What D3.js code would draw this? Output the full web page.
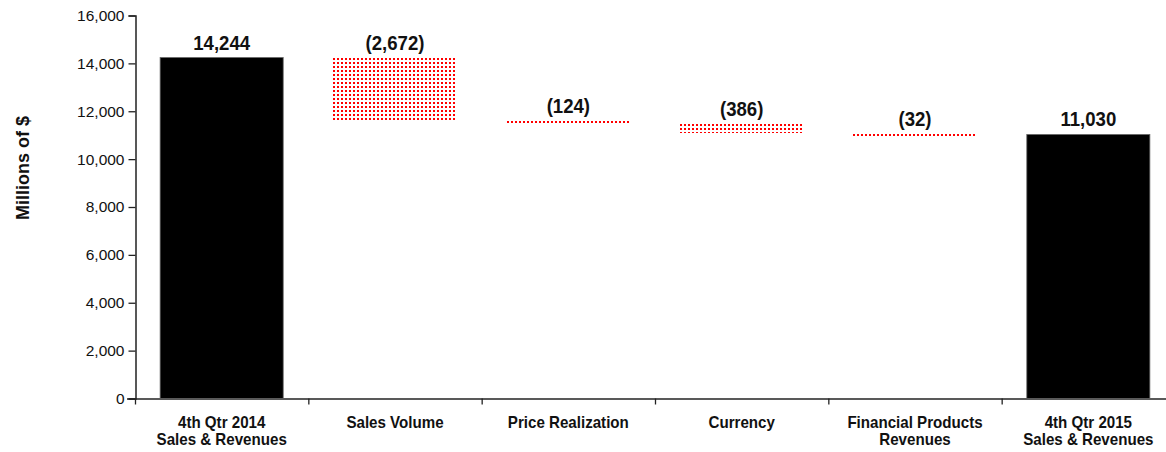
<!DOCTYPE html>
<html lang="en">
<head>
  <meta charset="UTF-8">
  <title>Sales and Revenues waterfall</title>
  <script src="https://d3js.org/d3.v7.min.js"></script>
  <style>
    body { margin: 0; background: #fff; }
    svg { font-family: "Liberation Sans Narrow", "Arial Narrow", "Liberation Sans", sans-serif; }
  </style>
</head>
<body>
  <svg id="chart"></svg>

  <script>
    // categories, with line breaks for the axis labels
    const categories = [
      ["4th Qtr 2014", "Sales & Revenues"],
      ["Sales Volume"],
      ["Price Realization"],
      ["Currency"],
      ["Financial Products", "Revenues"],
      ["4th Qtr 2015", "Sales & Revenues"]
    ];
    // totals are absolute, the others are changes
    const values = [14244, -2672, -124, -386, -32, 11030];
    const isTotal = [true, false, false, false, false, true];
    const labels = ["14,244", "(2,672)", "(124)", "(386)", "(32)", "11,030"];
    const yTicks = [0, 2000, 4000, 6000, 8000, 10000, 12000, 14000, 16000];

    const width = 1166, height = 452;
    const svg = d3.select("#chart").attr("width", width).attr("height", height);

    const x = d3.scaleBand()
      .domain(d3.range(categories.length))
      .range([135, 1175])
      .paddingInner(0.29)
      .paddingOuter(0.145);

    const y = d3.scaleLinear().domain([0, 16000]).range([398.5, 15.5]);

    // compute waterfall start/end
    let running = 0;
    const bars = values.map((v, i) => {
      let lo, hi;
      if (isTotal[i]) { lo = 0; hi = v; running = v; }
      else { const next = running + v; lo = Math.min(running, next); hi = Math.max(running, next); running = next; }
      return { i, lo, hi, total: isTotal[i], label: labels[i] };
    });

    // one dot pattern per change bar, snapped to whole pixels
    const defs = svg.append("defs");
    const pats = defs.selectAll("pattern")
      .data(bars.filter(d => !d.total))
      .join("pattern")
      .attr("id", d => "dots" + d.i)
      .attr("patternUnits", "userSpaceOnUse")
      .attr("x", d => Math.round(x(d.i)))
      .attr("y", d => Math.round(y(d.hi)))
      .attr("width", 4).attr("height", 4);
    pats.append("rect")
      .attr("x", 0).attr("y", 0)
      .attr("width", 2).attr("height", 2)
      .attr("fill", "#ff0000");

    // y axis
    const yAxis = svg.append("g")
      .attr("transform", "translate(135.5,0)")
      .call(d3.axisLeft(y).tickValues(yTicks).tickFormat(d3.format(",")).tickSizeOuter(0).tickSize(7));
    yAxis.select(".domain").attr("stroke", "#222").attr("stroke-width", 1.5);
    yAxis.selectAll(".tick line").attr("stroke", "#222").attr("stroke-width", 1.3);
    yAxis.selectAll(".tick text")
      .attr("font-size", 15.5).attr("fill", "#111")
      .attr("font-family", "\"Liberation Sans Narrow\", \"Arial Narrow\", \"Liberation Sans\", sans-serif")
      .attr("x", -11);

    // x axis line with ticks at band boundaries
    const step = x.step();
    const bounds = d3.range(categories.length).map(k => 135 + k * step);
    svg.append("line")
      .attr("x1", 127).attr("x2", width)
      .attr("y1", y(0) + 0.5).attr("y2", y(0) + 0.5)
      .attr("stroke", "#222").attr("stroke-width", 1.5);
    svg.selectAll(".xtick")
      .data(bounds)
      .join("line")
      .attr("class", "xtick")
      .attr("x1", d => d + 0.5).attr("x2", d => d + 0.5)
      .attr("y1", y(0)).attr("y2", y(0) + 6)
      .attr("stroke", "#222").attr("stroke-width", 1.3);

    // bars (change bars snapped so the dots stay crisp)
    svg.selectAll(".bar")
      .data(bars)
      .join("rect")
      .attr("class", "bar")
      .attr("x", d => d.total ? x(d.i) : Math.round(x(d.i)))
      .attr("width", d => d.total ? x.bandwidth() : Math.round(x.bandwidth()))
      .attr("y", d => d.total ? y(d.hi) : Math.round(y(d.hi)))
      .attr("height", d => d.total ? y(d.lo) - y(d.hi) : Math.max(2, Math.round(y(d.lo) - y(d.hi))))
      .attr("fill", d => d.total ? "#000" : `url(#dots${d.i})`)
      .attr("stroke", d => d.total ? "#666" : "none")
      .attr("stroke-width", 0.8);

    // value labels
    svg.selectAll(".val")
      .data(bars)
      .join("text")
      .attr("class", "val")
      .attr("transform", d => `translate(${x(d.i) + x.bandwidth() / 2},${y(d.hi) - 8}) scale(0.93,1)`)
      .attr("text-anchor", "middle")
      .attr("font-size", 20)
      .attr("font-weight", "bold")
      .attr("fill", "#111")
      .text(d => d.label);

    // category labels
    const cat = svg.selectAll(".cat")
      .data(categories)
      .join("text")
      .attr("class", "cat")
      .attr("transform", (d, i) => `translate(${x(i) + x.bandwidth() / 2},428) scale(0.89,1)`)
      .attr("text-anchor", "middle")
      .attr("font-size", 17)
      .attr("font-weight", "bold")
      .attr("fill", "#111");
    cat.selectAll("tspan")
      .data(d => d)
      .join("tspan")
      .attr("x", 0)
      .attr("dy", (d, j) => j === 0 ? 0 : 17.5)
      .text(d => d);

    // y title
    svg.append("text")
      .attr("transform", "translate(29,168) rotate(-90)")
      .attr("text-anchor", "middle")
      .attr("font-size", 18)
      .attr("font-weight", "bold")
      .attr("fill", "#111")
      .text("Millions of $");
  </script>
</body>
</html>
